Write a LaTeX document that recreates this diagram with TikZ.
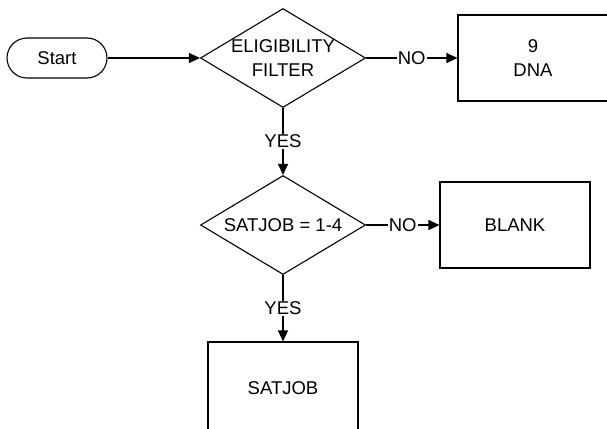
\documentclass[tikz,border=0pt]{standalone}
\usepackage{fontspec}
\setmainfont{Liberation Sans}
\usetikzlibrary{shapes,arrows.meta}

\begin{document}
\begin{tikzpicture}[x=1pt,y=-1pt,line width=1.1pt,
	every node/.style={font=\fontsize{18.5}{24}\selectfont},
	terminal/.style={draw,rectangle,rounded corners=20pt,minimum width=100pt,minimum height=40pt},
	decision/.style={draw,diamond,minimum width=165pt,minimum height=99pt,inner sep=0pt,shape aspect=1.67},
	outcome/.style={draw,rectangle,minimum width=150pt,minimum height=86pt,align=center},
	answer/.style={fill=white,inner sep=1pt}]
		\useasboundingbox (0,0) rectangle (607,428);
		\node[terminal] (start) at (57,58) {Start};
		\node[decision,label={[align=center]center:ELIGIBILITY\\FILTER}] (elig) at (283,58) {};
		\node[outcome] (dna) at (533,58) {9\\DNA};
		\node[decision] (satq) at (283,225) {SATJOB = 1-4};
		\node[outcome] (blank) at (515,225) {BLANK};
		\node[outcome,minimum height=92pt] (satjob) at (283,388) {SATJOB};
				%
		\path[->,>={Triangle[length=11pt,width=10pt]}]
		(start) edge (elig)
		(elig) edge node[answer]{NO} (dna)
		(elig) edge node[answer]{YES} (satq)
		(satq) edge node[answer]{NO} (blank)
		(satq) edge node[answer]{YES} (satjob);
	\end{tikzpicture}
\end{document}
